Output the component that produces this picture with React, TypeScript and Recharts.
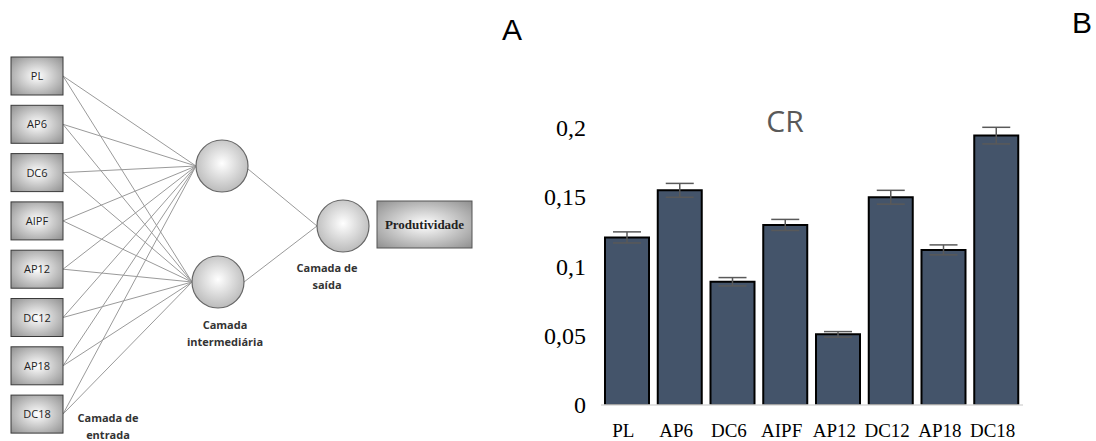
import { BarChart, Bar, XAxis, YAxis, ErrorBar } from 'recharts';

// panel B data
const categories = ['PL', 'AP6', 'DC6', 'AIPF', 'AP12', 'DC12', 'AP18', 'DC18'];
const crValues = [0.121, 0.155, 0.089, 0.13, 0.051, 0.15, 0.112, 0.1945];
const crErrors = [0.004, 0.005, 0.003, 0.004, 0.002, 0.005, 0.0036, 0.006];
const yTicks = [0, 0.05, 0.1, 0.15, 0.2];

// panel A labels
const inputNodes = ['PL', 'AP6', 'DC6', 'AIPF', 'AP12', 'DC12', 'AP18', 'DC18'];
const hiddenNodes = [{ cx: 222, cy: 166 }, { cx: 218, cy: 282 }];
const outputNode = { cx: 343, cy: 226 };
const layerLabels = [
  { lines: ['Camada de', 'entrada'], x: 108, y: 422 },
  { lines: ['Camada', 'intermediária'], x: 225, y: 329 },
  { lines: ['Camada de', 'saída'], x: 327, y: 272 },
];

const data = categories.map((name, i) => ({ name, cr: crValues[i], err: crErrors[i] }));
const fmt = (v: number) => String(v).replace('.', ',');

const R = 26;
const BOX_X = 11, BOX_W = 52, BOX_H = 38;
const boxCy = (i: number) => 76 + i * 48.3;
const serif = "'Liberation Serif', 'Times New Roman', serif";

function YTick(props: any) {
  const { x, y, payload } = props;
  return (
    <text x={x} y={y} dy={8} textAnchor="end" fontFamily={serif} fontSize={24} fill="#000">
      {fmt(payload.value)}
    </text>
  );
}

function XTick(props: any) {
  const { x, y, payload } = props;
  return (
    <text x={x - 4} y={y} dy={13} textAnchor="middle" fontFamily={serif} fontSize={19} fill="#000">
      {payload.value}
    </text>
  );
}

function Network() {
  return (
    <svg width={490} height={441} style={{ position: 'absolute', left: 0, top: 0 }}>
      <defs>
        <radialGradient id="boxG" cx="50%" cy="50%" r="70%">
          <stop offset="0%" stopColor="#ffffff" />
          <stop offset="100%" stopColor="#8f8f8f" />
        </radialGradient>
        <radialGradient id="circG" cx="50%" cy="45%" r="60%">
          <stop offset="0%" stopColor="#ffffff" />
          <stop offset="100%" stopColor="#b5b5b5" />
        </radialGradient>
      </defs>
      {inputNodes.map((n, i) =>
        hiddenNodes.map((h, j) => (
          <line key={n + j} x1={BOX_X + BOX_W} y1={boxCy(i)} x2={h.cx - R} y2={h.cy}
            stroke="#9a9a9a" strokeWidth={1} />
        ))
      )}
      {hiddenNodes.map((h, j) => (
        <line key={'o' + j} x1={h.cx + R} y1={h.cy + (j === 0 ? 3 : 0)} x2={outputNode.cx - R} y2={outputNode.cy}
          stroke="#9a9a9a" strokeWidth={1} />
      ))}
      {inputNodes.map((n, i) => (
        <g key={n}>
          <rect x={BOX_X} y={boxCy(i) - BOX_H / 2} width={BOX_W} height={BOX_H}
            fill="url(#boxG)" stroke="#3a3a3a" strokeWidth={1} />
          <text x={BOX_X + BOX_W / 2} y={boxCy(i) + 4} textAnchor="middle"
            fontFamily="'Open Sans', sans-serif" fontSize={11} fill="#222">{n}</text>
        </g>
      ))}
      {[...hiddenNodes, outputNode].map((c, k) => (
        <circle key={k} cx={c.cx} cy={c.cy} r={R} fill="url(#circG)" stroke="#666" strokeWidth={1.2} />
      ))}
      <rect x={377} y={201} width={95} height={47} fill="url(#boxG)" stroke="#555" strokeWidth={1} />
      <text x={424.5} y={229} textAnchor="middle" fontFamily={serif}
        fontWeight="bold" fontSize={13} fill="#222">Produtividade</text>
      {layerLabels.map(l => (
        <text key={l.lines[0] + l.y} textAnchor="middle" fontFamily="'Open Sans', sans-serif"
          fontWeight="bold" fontSize={11} fill="#333">
          {l.lines.map((s, k) => (
            <tspan key={k} x={l.x} y={l.y + k * 17}>{s}</tspan>
          ))}
        </text>
      ))}
    </svg>
  );
}

export default function App() {
  return (
    <div style={{ position: 'absolute', left: 0, top: 0, width: 1096, height: 441, background: '#fff', overflow: 'hidden' }}>
      <Network />
      <div style={{ position: 'absolute', left: 0, top: 0, fontFamily: serif }}>
        <BarChart width={1096} height={441} data={data}
          margin={{ top: 128, right: 73, bottom: 6, left: 541 }}>
          <XAxis dataKey="name" height={30} axisLine={{ stroke: '#d9d9d9', strokeWidth: 1.5 }} tickLine={false}
            tickSize={0} tickMargin={19} interval={0} tick={<XTick />} />
          <YAxis domain={[0, 0.2]} ticks={yTicks} allowDataOverflow width={60} axisLine={false}
            tickLine={false} tickSize={0} tickMargin={15} tick={<YTick />} />
          <Bar dataKey="cr" fill="#44546a" stroke="#000" strokeWidth={2} barSize={44} isAnimationActive={false}>
            <ErrorBar dataKey="err" width={14} stroke="#595959" strokeWidth={1.5} isAnimationActive={false} />
          </Bar>
        </BarChart>
      </div>
      <svg width={1096} height={441} style={{ position: 'absolute', left: 0, top: 0, pointerEvents: 'none' }}>
        <text x={785} y={132} textAnchor="middle" fontFamily="'Open Sans', sans-serif" fontSize={30} fill="#595959">CR</text>
        <text x={512} y={40} textAnchor="middle" fontFamily="'Liberation Sans', sans-serif" fontSize={30} fill="#000">A</text>
        <text x={1082} y={33} textAnchor="middle" fontFamily="'Liberation Sans', sans-serif" fontSize={30} fill="#000">B</text>
      </svg>
    </div>
  );
}
